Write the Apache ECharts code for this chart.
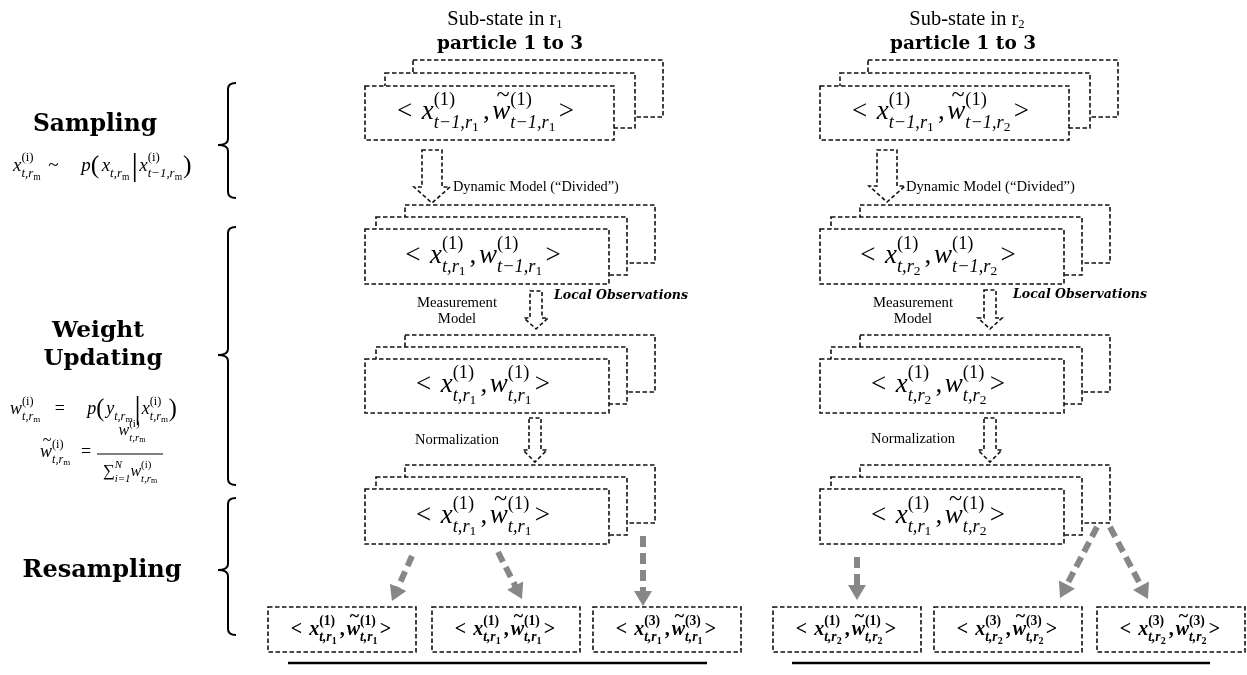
<!DOCTYPE html>
<html><head><meta charset="utf-8">
<script src="https://cdn.jsdelivr.net/npm/echarts@6/dist/echarts.min.js"></script>
<style>html,body{margin:0;padding:0;background:#fff}#c{width:1247px;height:675px}</style>
</head><body><div id="c"></div>
<script>
// ---------------- data ----------------
const regionIds = ['1', '2'];
const columnTitle = 'Sub-state in r';
const particleTitle = 'particle 1 to 3';
const stepNames = ['Sampling', 'Weight', 'Updating', 'Resampling'];
const stageParticle = '1';
// per region, per stage (4 stacked stages)
const xTimeSubs = [['t−1', 't', 't', 't'], ['t−1', 't', 't', 't']];
const xRegionSubs = [['1', '1', '1', '1'], ['1', '2', '2', '1']];
const wTimeSubs = [['t−1', 't−1', 't', 't'], ['t−1', 't−1', 't', 't']];
const wRegionSubs = [['1', '1', '1', '1'], ['2', '2', '2', '2']];
const wNormalized = [true, false, false, true];
// resampled particles (bottom row)
const resampledParticles = [['1', '1', '3'], ['1', '3', '3']];
const resampledRegion = [['1', '1', '1'], ['2', '2', '2']];
const transitionTexts = ['Dynamic Model (“Divided”)', 'Measurement', 'Model', 'Local Observations', 'Normalization'];

// ---------------- layout ----------------
const MATH = "'Liberation Serif', serif";
const TEXT = "'DejaVu Serif', serif";
const LAB = "'Liberation Serif', serif";
const colFront = [365, 820];
const stageTop = [86, 229, 359, 489];
const stageSize = [[249, 54], [244, 55], [244, 54], [244, 55]];
const resampleX = [[268, 432, 593], [773, 934, 1097]];
const hollowArrows = [[432,150,203,20,36,16],[536,291,329,12,24,11],[535,418,462,12,24,12],
                      [887,150,202,20,36,16],[990,290,329,12,24,11],[990,418,462,12,24,12]];
const grayArrows = [[412,556,392,601],[498,552,522,599],[643,536,643,606],
                    [857,557,857,600],[1097,527,1060,598],[1110,527,1148,599]];
const braces = [[228,83,198,145],[228,227,485,355],[228,498,635,570]];
const rules = [[288,663,707,663,2.5],[792,663,1210,663,2.5],[97,454,163,454,1]];

// ---------------- helpers ----------------
const mctx = document.createElement('canvas').getContext('2d');
function measure(t, f) { mctx.font = f; return mctx.measureText(t).width; }
function fnt(size, it, bold, fam) { return (it ? 'italic ' : '') + (bold ? 'bold ' : '') + size.toFixed(2) + 'px ' + (fam || MATH); }
function fit(text, it, bold, fam, w) { return 100 * w / measure(text, fnt(100, it, bold, fam)); }
function textEl(t, x, y, f, align) {
  return {type: 'text', style: {text: t, x: x, y: y, font: f, fill: '#000',
    textAlign: align || 'left', textVerticalAlign: 'middle', align: align || 'left', verticalAlign: 'middle'}};
}
function mathLayout(tokens, S, bold) {
  const s2 = S * 0.68, s3 = S * 0.5;
  const items = []; let x = 0;
  for (const tk of tokens) {
    if (tk.sp != null) { x += tk.sp * S; continue; }
    if (tk.sup != null || tk.sub != null) {
      let w1 = 0, w2 = 0;
      if (tk.sup) { const f = fnt(s2, !!tk.supIt, bold); items.push({t: tk.sup, x, dy: -0.42 * S, f}); w1 = measure(tk.sup, f); }
      if (tk.sub) {
        const f = fnt(s2, true, bold); items.push({t: tk.sub, x, dy: 0.42 * S, f}); w2 = measure(tk.sub, f);
        if (tk.subsub) { const f3 = fnt(s3, false, bold); items.push({t: tk.subsub, x: x + w2, dy: 0.58 * S, f: f3}); w2 += measure(tk.subsub, f3); }
      }
      x += Math.max(w1, w2); continue;
    }
    const sz = S * (tk.scale || 1);
    const f = fnt(sz, !!tk.it, tk.bold != null ? tk.bold : bold, tk.fam);
    const w = measure(tk.t, f);
    items.push({t: tk.t, x, dy: (tk.dy || 0) * S, f});
    if (tk.tilde) {
      const ft = fnt(sz * 0.9, false, bold); const wt = measure('~', ft);
      items.push({t: '~', x: x + w / 2 - wt / 2 + 0.06 * S, dy: -0.6 * S, f: ft});
    }
    x += w;
  }
  return {items, width: x};
}
function mathEls(tokens, px, py, S, bold, anchor) {
  const L = mathLayout(tokens, S, bold);
  const x0 = anchor === 'left' ? px : px - L.width / 2;
  return L.items.map(it => textEl(it.t, x0 + it.x, py + it.dy, it.f, 'left'));
}
function pairTokens(xi, xs, xr, tilde, wi, ws, wr) {
  return [{t: '<'}, {sp: 0.35}, {t: 'x', it: true}, {sup: '(' + xi + ')', sub: xs + ',r', subsub: xr}, {sp: 0.15},
          {t: ','}, {sp: 0.1}, {t: 'w', it: true, tilde: tilde}, {sup: '(' + wi + ')', sub: ws + ',r', subsub: wr}, {sp: 0.12}, {t: '>'}];
}
const sub_trm = {sup: '(i)', sub: 't,r', subsub: 'm'};
const formulas = [
  {x: 13, y: 166, S: 19, anchor: 'left', tokens: [{t: 'x', it: true}, sub_trm, {sp: 0.4}, {t: '~'}, {sp: 1.2}, {t: 'p', it: true}, {t: '(', scale: 1.35, dy: 0.04}, {sp: 0.12},
    {t: 'x', it: true}, {sub: 't,r', subsub: 'm'}, {sp: 0.12}, {t: '|', scale: 1.7, dy: 0.05}, {sp: 0.06}, {t: 'x', it: true}, {sup: '(i)', sub: 't−1,r', subsub: 'm'}, {sp: 0.05}, {t: ')', scale: 1.35, dy: 0.04}]},
  {x: 10, y: 409, S: 18, anchor: 'left', tokens: [{t: 'w', it: true}, sub_trm, {sp: 0.8}, {t: '='}, {sp: 1.25}, {t: 'p', it: true}, {t: '(', scale: 1.35, dy: 0.04}, {sp: 0.1},
    {t: 'y', it: true}, {sub: 't,r', subsub: 'm'}, {sp: 0.12}, {t: '|', scale: 1.7, dy: 0.05}, {sp: 0.06}, {t: 'x', it: true}, sub_trm, {sp: 0.05}, {t: ')', scale: 1.35, dy: 0.04}]},
  {x: 40, y: 452, S: 18, anchor: 'left', tokens: [{t: 'w', it: true, tilde: true}, sub_trm, {sp: 0.6}, {t: '='}]},
  {x: 132, y: 431, S: 16, anchor: 'center', tokens: [{t: 'w', it: true}, sub_trm]},
  {x: 130, y: 472, S: 16, anchor: 'center', tokens: [{t: '∑', scale: 1.05}, {sup: 'N', supIt: true, sub: 'i=1'}, {t: 'w', it: true}, sub_trm]}
];

// text labels: [text, x, y, fam, italic, bold, size (null = fit width), width, align]
const headingDefs = [
  [stepNames[0], 95, 125, TEXT, false, true, 24, 124, 'center'],
  [stepNames[1], 98, 331, TEXT, false, true, 23, 92, 'center'],
  [stepNames[2], 103, 359, TEXT, false, true, 23, 119, 'center'],
  [stepNames[3], 102, 571, TEXT, false, true, 24, 159, 'center'],
  [particleTitle, 510, 44, TEXT, false, true, 18.5, 146, 'center'],
  [particleTitle, 963, 44, TEXT, false, true, 18.5, 146, 'center'],
  [transitionTexts[0], 453, 187, LAB, false, false, null, 166, 'left'],
  [transitionTexts[0], 906, 187, LAB, false, false, null, 169, 'left'],
  [transitionTexts[1], 457, 303, LAB, false, false, null, 80, 'center'],
  [transitionTexts[1], 913, 303, LAB, false, false, null, 80, 'center'],
  [transitionTexts[2], 457, 319, LAB, false, false, 14.7, null, 'center'],
  [transitionTexts[2], 913, 319, LAB, false, false, 14.7, null, 'center'],
  [transitionTexts[3], 554, 296, TEXT, true, true, null, 134, 'left'],
  [transitionTexts[3], 1013, 295, TEXT, true, true, null, 134, 'left'],
  [transitionTexts[4], 457, 440, LAB, false, false, null, 84, 'center'],
  [transitionTexts[4], 913, 439, LAB, false, false, null, 84, 'center']
];
const titleCenters = [[505, 20], [967, 20]];

// ---------------- series builders ----------------
const dash = {fill: '#fff', stroke: '#111', lineWidth: 1.6, lineDash: [4.5, 2.5]};
function R(api, x, y, w, h) {
  const a = api.coord([x, y]), b = api.coord([x + w, y + h]);
  return {x: a[0], y: a[1], width: b[0] - a[0], height: b[1] - a[1]};
}
const layersFirst = [{dx: 48, dy: -26, dw: 1, dh: 3}, {dx: 20, dy: -13, dw: 1, dh: 1}];
const layersOther = [{dx: 40, dy: -24, dw: 6, dh: 3}, {dx: 11, dy: -12, dw: 7, dh: 3}];

const stackData = [];
regionIds.forEach((_, r) => stageTop.forEach((t, s) => stackData.push([colFront[r], t, stageSize[s][0], stageSize[s][1], r, s])));
const resData = [];
regionIds.forEach((_, r) => resampleX[r].forEach((x, k) => resData.push([x, 607, 148, 45, r, k])));

const baseCustom = {type: 'custom', coordinateSystem: 'cartesian2d', encode: {x: 0, y: 1}, clip: false, silent: true};

const option = {
  animation: false,
  backgroundColor: '#fff',
  grid: {left: 0, right: 0, top: 0, bottom: 0},
  xAxis: {type: 'value', min: 0, max: 1247, show: false},
  yAxis: {type: 'value', min: 0, max: 675, inverse: true, show: false},
  series: [
    Object.assign({}, baseCustom, {
      name: 'stacks', data: stackData,
      renderItem: (p, api) => {
        const fx = api.value(0), fy = api.value(1), fw = api.value(2), fh = api.value(3), r = api.value(4), s = api.value(5);
        const layers = s === 0 ? layersFirst : layersOther;
        const ch = layers.map(L => ({type: 'rect', shape: R(api, fx + L.dx, fy + L.dy, fw + L.dw, fh + L.dh), style: dash}));
        ch.push({type: 'rect', shape: R(api, fx, fy, fw, fh), style: dash});
        const c = api.coord([fx + fw / 2 - 4, fy + fh / 2 - 1]);
        const toks = pairTokens(stageParticle, xTimeSubs[r][s], xRegionSubs[r][s], wNormalized[s], stageParticle, wTimeSubs[r][s], wRegionSubs[r][s]);
        return {type: 'group', children: ch.concat(mathEls(toks, c[0], c[1], 27, false, 'center'))};
      }
    }),
    Object.assign({}, baseCustom, {
      name: 'resampled', data: resData,
      renderItem: (p, api) => {
        const x = api.value(0), y = api.value(1), w = api.value(2), h = api.value(3), r = api.value(4), k = api.value(5);
        const c = api.coord([x + w / 2 - 1, y + h / 2]);
        const idx = resampledParticles[r][k], reg = resampledRegion[r][k];
        const toks = pairTokens(idx, 't', reg, true, idx, 't', reg);
        return {type: 'group', children: [{type: 'rect', shape: R(api, x, y, w, h), style: dash}].concat(mathEls(toks, c[0], c[1], 20, true, 'center'))};
      }
    }),
    Object.assign({}, baseCustom, {
      name: 'hollowArrows', data: hollowArrows,
      renderItem: (p, api) => {
        const cx = api.value(0), top = api.value(1), tip = api.value(2), sw = api.value(3), hw = api.value(4), hl = api.value(5);
        const pts = [[cx - sw / 2, top], [cx + sw / 2, top], [cx + sw / 2, tip - hl], [cx + hw / 2, tip - hl], [cx, tip], [cx - hw / 2, tip - hl], [cx - sw / 2, tip - hl]].map(q => api.coord(q));
        return {type: 'polygon', shape: {points: pts}, style: {fill: '#fff', stroke: '#111', lineWidth: 1.6, lineDash: [4, 2.5]}};
      }
    }),
    Object.assign({}, baseCustom, {
      name: 'grayArrows', data: grayArrows,
      renderItem: (p, api) => {
        const a = api.coord([api.value(0), api.value(1)]), b = api.coord([api.value(2), api.value(3)]);
        const dx = b[0] - a[0], dy = b[1] - a[1], L = Math.hypot(dx, dy), ux = dx / L, uy = dy / L;
        const hl = 15, hw = 9;
        const base = [b[0] - ux * hl, b[1] - uy * hl];
        return {type: 'group', children: [
          {type: 'line', shape: {x1: a[0], y1: a[1], x2: base[0] + ux * 2, y2: base[1] + uy * 2}, style: {stroke: '#878787', lineWidth: 6, lineDash: [11, 6]}},
          {type: 'polygon', shape: {points: [b, [base[0] - uy * hw, base[1] + ux * hw], [base[0] + uy * hw, base[1] - ux * hw]]}, style: {fill: '#878787'}}
        ]};
      }
    }),
    Object.assign({}, baseCustom, {
      name: 'braces', data: braces,
      renderItem: (p, api) => {
        const xs = api.value(0), y0 = api.value(1), y1 = api.value(2), ym = api.value(3);
        const P = (x, y) => api.coord([x, y]).map(v => v.toFixed(1)).join(' ');
        const xe = xs + 8, xt = xs - 10, rr = 6;
        const d = 'M' + P(xe, y0) + ' Q' + P(xs, y0) + ' ' + P(xs, y0 + rr) + ' L' + P(xs, ym - rr) + ' Q' + P(xs, ym) + ' ' + P(xt, ym) +
          ' Q' + P(xs, ym) + ' ' + P(xs, ym + rr) + ' L' + P(xs, y1 - rr) + ' Q' + P(xs, y1) + ' ' + P(xe, y1);
        return {type: 'path', shape: {pathData: d}, style: {fill: null, stroke: '#000', lineWidth: 2}};
      }
    }),
    Object.assign({}, baseCustom, {
      name: 'rules', data: rules,
      renderItem: (p, api) => {
        const a = api.coord([api.value(0), api.value(1)]), b = api.coord([api.value(2), api.value(3)]);
        return {type: 'line', shape: {x1: a[0], y1: a[1], x2: b[0], y2: b[1]}, style: {stroke: '#000', lineWidth: api.value(4)}};
      }
    }),
    Object.assign({}, baseCustom, {
      name: 'formulas', data: formulas.map((f, i) => [f.x, f.y, i]),
      renderItem: (p, api) => {
        const f = formulas[api.value(2)]; const c = api.coord([api.value(0), api.value(1)]);
        return {type: 'group', children: mathEls(f.tokens, c[0], c[1], f.S, false, f.anchor)};
      }
    }),
    Object.assign({}, baseCustom, {
      name: 'headings', data: headingDefs.map((h, i) => [h[1], h[2], i]),
      renderItem: (p, api) => {
        const h = headingDefs[api.value(2)]; const c = api.coord([api.value(0), api.value(1)]);
        let size = h[6], sx = 1;
        if (size == null) size = fit(h[0], h[4], h[5], h[3], h[7]);
        else if (h[7] != null) sx = h[7] / measure(h[0], fnt(size, h[4], h[5], h[3]));
        const el = textEl(h[0], 0, 0, fnt(size, h[4], h[5], h[3]), h[8]);
        el.x = c[0]; el.y = c[1]; el.scaleX = sx;
        return el;
      }
    }),
    Object.assign({}, baseCustom, {
      name: 'titles', data: titleCenters.map((t, i) => [t[0], t[1], i]),
      renderItem: (p, api) => {
        const c = api.coord([api.value(0), api.value(1)]);
        const size = fit(columnTitle, false, false, LAB, 109);
        const toks = [{t: columnTitle, fam: LAB}, {t: regionIds[api.value(2)], fam: LAB, scale: 0.62, dy: 0.22}];
        return {type: 'group', children: mathEls(toks, c[0], c[1], size, false, 'center')};
      }
    })
  ]
};
const chart = echarts.init(document.getElementById('c'), null, {renderer: 'canvas', width: 1247, height: 675});
chart.setOption(option);
</script></body></html>
